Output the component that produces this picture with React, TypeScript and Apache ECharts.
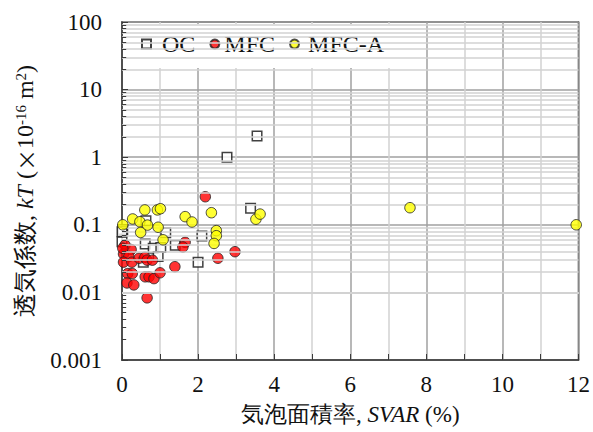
import React, { useEffect, useRef } from "react";
import * as echarts from "echarts";

// OC (open squares)
const ocX = [3.55, 2.76, 3.38, 0.02, 0.0, 0.63, 1.15, 2.1, 0.61, 0.82, 1.02, 1.4, 0.95, 0.56, 2.0, 0.0];
const ocY = [2.06, 1.0, 0.175, 0.085, 0.056, 0.115, 0.076, 0.068, 0.052, 0.045, 0.046, 0.05, 0.034, 0.028, 0.028, 0.079];

// MFC (red circles)
const mfcX = [2.19, 1.66, 1.6, 2.97, 2.52, 1.39, 0.66, 0.08, 0.24, 0.04, 0.18, 0.04, 0.26, 0.45, 0.6, 0.66, 0.8, 0.15, 0.27, 0.13, 0.31, 0.61, 0.71, 0.84, 1.0, 0.02];
const mfcY = [0.26, 0.055, 0.047, 0.04, 0.032, 0.024, 0.0083, 0.05, 0.043, 0.037, 0.034, 0.028, 0.028, 0.032, 0.033, 0.03, 0.03, 0.019, 0.019, 0.0138, 0.0129, 0.017, 0.017, 0.016, 0.0195, 0.045];

// MFC-A (yellow circles)
const mfcaX = [0.02, 0.28, 0.47, 0.6, 0.67, 0.49, 0.93, 1.01, 0.95, 1.08, 1.66, 1.84, 2.35, 2.48, 2.48, 2.42, 3.52, 3.63, 7.57, 11.94];
const mfcaY = [0.1, 0.122, 0.111, 0.166, 0.099, 0.077, 0.166, 0.173, 0.092, 0.06, 0.132, 0.11, 0.151, 0.082, 0.069, 0.053, 0.121, 0.144, 0.179, 0.1];

const yTickLabels = ["0.001", "0.01", "0.1", "1", "10", "100"];
const xTickLabels = ["0", "2", "4", "6", "8", "10", "12"];

const zip = (xs: number[], ys: number[]) => xs.map((x, i) => [x, ys[i]]);

export default function App() {
  const ref = useRef<HTMLDivElement>(null);
  useEffect(() => {
    const chart = echarts.init(ref.current!, null, { renderer: "svg" });
    const serif = "Liberation Serif";
    const cjk = "Noto Sans CJK JP";
    const minor: number[] = [];
    for (let e = -3; e < 2; e++)
      for (let k = 2; k <= 9; k++) minor.push(+(k * Math.pow(10, e)).toPrecision(2));
    const legendText = { fontFamily: serif, fontSize: 24, color: "#111" };
    chart.setOption({
      animation: false,
      grid: {
        left: 122,
        right: 12,
        top: 22,
        bottom: 72,
        show: true,
        borderColor: "#3a3a3a",
        borderWidth: 1.5,
        backgroundColor: "transparent",
      },
      legend: {
        data: [
          { name: "OC", textStyle: { ...legendText, padding: [0, 0, 0, 6] } },
          { name: "MFC", textStyle: { ...legendText, padding: [0, 0, 0, 0] } },
          { name: "MFC-A", textStyle: { ...legendText, padding: [0, 0, 0, 4] } },
        ],
        left: 124,
        top: 24,
        orient: "horizontal",
        padding: [8, 12, 12, 17],
        backgroundColor: "#ffffff",
        itemWidth: 9,
        itemHeight: 9,
        itemGap: 14,
        textStyle: legendText,
      },
      xAxis: {
        type: "value",
        min: 0,
        max: 12,
        interval: 2,
        name: "気泡面積率, {i|SVAR} (%)",
        nameLocation: "middle",
        nameGap: 43,
        nameTextStyle: {
          fontFamily: serif,
          fontSize: 23,
          color: "#111",
          rich: { i: { fontFamily: serif, fontSize: 23, fontStyle: "italic", color: "#111" } },
        },
        axisLine: { show: true, lineStyle: { color: "#3a3a3a", width: 1.5 } },
        axisTick: { show: true, inside: true, length: 6, lineStyle: { color: "#3a3a3a" } },
        minorTick: { show: true, splitNumber: 2, length: 6, lineStyle: { color: "#3a3a3a" } },
        splitLine: { show: true, lineStyle: { color: "#a0a0a0", width: 1.5 } },
        minorSplitLine: { show: true, lineStyle: { color: "#d2d2d2", width: 1.5 } },
        axisLabel: {
          fontFamily: serif,
          fontSize: 23,
          color: "#111",
          margin: 13,
          formatter: (v: number, i: number) => xTickLabels[i] ?? String(v),
        },
      },
      yAxis: {
        type: "log",
        logBase: 10,
        min: 0.001,
        max: 100,
        name: "透気係数, {i|kT} ({x|×}10{s|-16} m{s|2})",
        nameLocation: "middle",
        nameGap: 85,
        nameRotate: 90,
        nameTextStyle: {
          fontFamily: serif,
          fontSize: 24,
          color: "#111",
          rich: {
            i: { fontFamily: serif, fontSize: 24, fontStyle: "italic", color: "#111" },
            x: { fontFamily: cjk, fontSize: 22, color: "#111" },
            s: { fontFamily: serif, fontSize: 15, color: "#111", verticalAlign: "top" },
          },
        },
        axisLine: { show: true, lineStyle: { color: "#3a3a3a", width: 1.5 } },
        axisTick: { show: true, inside: true, length: 6, lineStyle: { color: "#3a3a3a" } },
        splitLine: { show: true, lineStyle: { color: "#a0a0a0", width: 1.5 } },
        axisLabel: {
          fontFamily: serif,
          fontSize: 23,
          color: "#111",
          margin: 20,
          formatter: (v: number, i: number) => yTickLabels[i] ?? String(v),
        },
      },
      series: [
        {
          type: "scatter",
          silent: true,
          data: [],
          z: 1,
          markLine: {
            silent: true,
            symbol: ["none", "none"],
            label: { show: false },
            animation: false,
            lineStyle: { color: "#d2d2d2", width: 1.5, type: "solid" },
            data: minor.map((v) => ({ yAxis: v })),
          },
        },
        {
          type: "scatter",
          silent: true,
          data: [],
          z: 1,
          markLine: {
            silent: true,
            symbol: ["none", "none"],
            label: { show: false },
            animation: false,
            lineStyle: { color: "#3a3a3a", width: 1, type: "solid" },
            data: minor.map((v) => [{ coord: [0, v] }, { coord: [0.11, v] }]),
          },
        },
        {
          name: "OC",
          type: "scatter",
          symbol: "rect",
          symbolSize: 9.5,
          z: 3,
          itemStyle: { color: "#ffffff", borderColor: "#111", borderWidth: 1.5 },
          data: zip(ocX, ocY),
        },
        {
          name: "MFC",
          type: "scatter",
          symbol: "circle",
          symbolSize: 10.5,
          z: 4,
          itemStyle: { color: "#ff0000", borderColor: "#222", borderWidth: 1 },
          data: zip(mfcX, mfcY),
        },
        {
          name: "MFC-A",
          type: "scatter",
          symbol: "circle",
          symbolSize: 10.5,
          z: 5,
          itemStyle: { color: "#ffff00", borderColor: "#222", borderWidth: 1 },
          data: zip(mfcaX, mfcaY),
        },
      ],
    });
    return () => chart.dispose();
  }, []);
  return <div ref={ref} style={{ width: 593, height: 432, position: "absolute", left: 0, top: 0 }} />;
}
